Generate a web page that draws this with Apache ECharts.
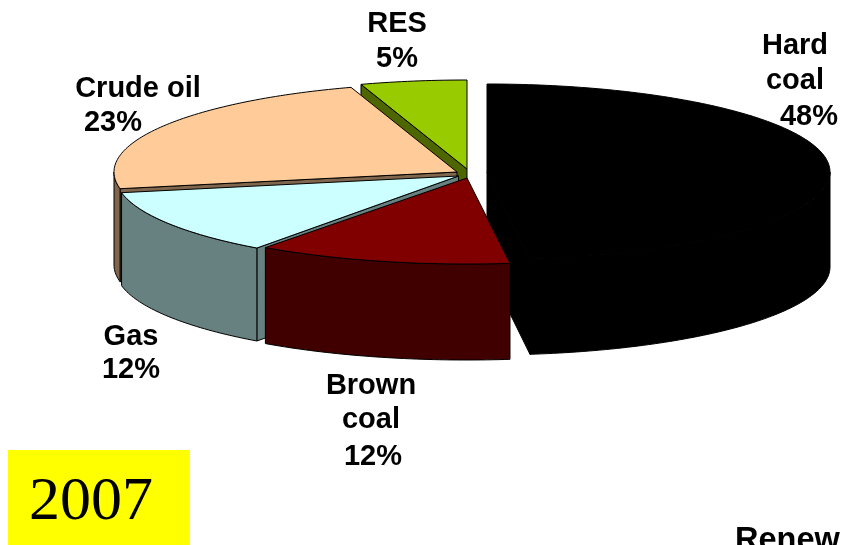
<!DOCTYPE html>
<html><head><meta charset="utf-8">
<style>html,body{margin:0;padding:0;background:#fff;overflow:hidden}#c{width:841px;height:545px}</style>
<script src="https://cdn.jsdelivr.net/npm/echarts@6/dist/echarts.min.js"></script>
</head><body><div id="c"></div>
<script>
// ---- data (clockwise from 12 o'clock) ----
const categories = ['Hard coal', 'Brown coal', 'Gas', 'Crude oil', 'RES'];
const shares = [48, 12, 12, 23, 5];
const yearLabel = '2007';
const cutOffLabel = 'Renew';

// ---- layout and style, kept apart from the data ----
const RX = 343;
const radiusY = [88,86,89,89,89];
const apex = [[487,172],[467,178],[458.5,176],[457,172],[467,169]];
const depth = [95,96,93,93,93];
const topColors = ['#000000','#800000','#ccffff','#ffcc99','#99cc00'];
const sideColors = ['#000000','#400000','#678080','#7f664c','#4d6600'];
const drawOrder = [4,3,0,2,1];
const labelLines = [
  [['Hard',795,46],['coal',795,81],['48%',809,117]],
  [['Brown',371,386],['coal',371,420],['12%',373,457]],
  [['Gas',131,337],['12%',131,370]],
  [['Crude oil',138,89],['23%',113,123]],
  [['RES',397,24],['5%',397,59]]
];

let before = 0;
const cumulative = shares.map(s => { const b = before; before += s; return b; });
const rows = drawOrder.map(i => [shares[i], cumulative[i], i]);

function rim(i, deg, dy) {
  const a = deg * Math.PI / 180;
  return [apex[i][0] + RX * Math.sin(a), apex[i][1] - radiusY[i] * Math.cos(a) + (dy || 0)];
}
function arc(i, d0, d1, dy) {
  const pts = [], n = Math.max(2, Math.ceil(Math.abs(d1 - d0)));
  for (let k = 0; k <= n; k++) pts.push(rim(i, d0 + (d1 - d0) * k / n, dy));
  return pts;
}
function poly(points, fill) {
  return { type:'polygon', shape:{points}, style:{fill, stroke:'#000', lineWidth:1, lineJoin:'round'} };
}
function renderSlice(params, api) {
  const value = api.value(0), start = api.value(1), i = api.value(2);
  const total = shares.reduce((a, b) => a + b, 0);
  const a0 = start / total * 360, a1 = (start + value) / total * 360;
  const d = depth[i], ax = apex[i][0], ay = apex[i][1];
  const side = sideColors[i], children = [];
  const face = ang => poly([[ax,ay], rim(i, ang), rim(i, ang, d), [ax,ay+d]], side);
  // only the cut faces that turn towards the viewer are drawn
  if (Math.sin(a0 * Math.PI / 180) < -1e-6) children.push(face(a0));
  if (Math.sin(a1 * Math.PI / 180) > 1e-6) children.push(face(a1));
  const w0 = Math.max(a0, 90), w1 = Math.min(a1, 270);
  if (w1 > w0) {
    const upper = arc(i, w0, w1), lower = arc(i, w1, w0, d);
    children.push(poly(upper.concat(lower), side));
  }
  children.push(poly([[ax,ay]].concat(arc(i, a0, a1)), topColors[i]));
  return { type:'group', children };
}
function renderLabels() {
  const children = [];
  labelLines.forEach((lines, i) => lines.forEach(([t, x, y], k) => {
    const isLast = k === lines.length - 1;
    children.push({ type:'text', style:{
      text: isLast ? shares[i] + '%' : t, x, y, align:'center', verticalAlign:'middle',
      font:'bold 29px "Liberation Sans", Arial, sans-serif', fill:'#000' } });
  }));
  return { type:'group', children };
}

const chart = echarts.init(document.getElementById('c'), null, { renderer:'canvas' });
chart.setOption({
  animation:false,
  backgroundColor:'#fff',
  series:[
    { type:'custom', coordinateSystem:'none', renderItem:renderSlice, data:rows, silent:true,
      dimensions:['share','cumulative','index'], encode:{} },
    { type:'custom', coordinateSystem:'none', renderItem:renderLabels, data:[[0]], silent:true, z:5 }
  ],
  graphic:[
    { type:'rect', left:8, top:450, shape:{width:182,height:95}, style:{fill:'#ffff00'}, z:1 },
    { type:'text', left:29, top:472, z:2, style:{ text:yearLabel, font:'62px "Liberation Serif", "Times New Roman", serif', fill:'#000' } },
    { type:'text', left:735, top:525, z:2, style:{ text:cutOffLabel, font:'bold 32.5px "Liberation Sans", Arial, sans-serif', fill:'#000' } }
  ]
});
</script></body></html>
